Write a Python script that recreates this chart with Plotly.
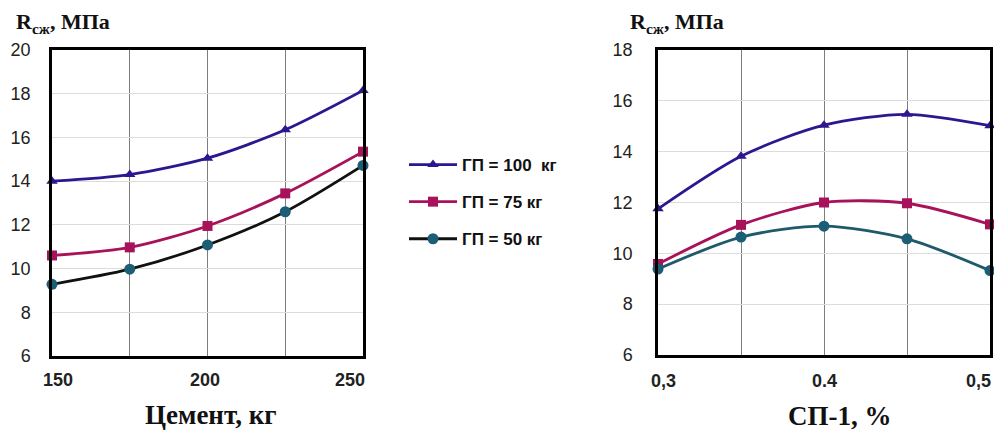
import plotly.graph_objects as go

# Left chart: Цемент, кг
cement = [150, 175, 200, 225, 250]
left_gp100 = [14.0, 14.3, 15.05, 16.35, 18.15]
left_gp75 = [10.6, 10.97, 11.95, 13.44, 15.35]
left_gp50 = [9.28, 9.97, 11.08, 12.6, 14.72]

# Right chart: СП-1, %
sp1 = [0.3, 0.35, 0.4, 0.45, 0.5]
right_gp100 = [11.75, 13.82, 15.04, 15.47, 15.02]
right_gp75 = [9.58, 11.12, 12.0, 11.97, 11.14]
right_gp50 = [9.38, 10.64, 11.07, 10.57, 9.32]

series_names = ["ГП = 100  кг", "ГП = 75 кг", "ГП = 50 кг"]
left_ticks = [150, 175, 200, 225, 250]
left_labels = ["150", "200", "250"]
right_ticks = [0.3, 0.35, 0.4, 0.45, 0.5]
right_labels = ["0,3", "0.4", "0,5"]

C100 = "#2d168f"
C75 = "#a8125a"
C50M = "#1b5e75"
C50L_LEFT = "#111111"
C50L_RIGHT = "#1d5a6b"

# page body has an 8px margin; figure is sized to fill the rest of the window
OFF = 8
W, H = 1002 - OFF, 435 - OFF


def px(x):
    return (x - OFF) / W


def py(y):
    return 1 - (y - OFF) / H


fig = go.Figure()


def add(x, y, name, lc, mc, sym, xa, ya, show, grp, size):
    fig.add_trace(go.Scatter(
        x=x, y=y, name=name, mode="lines+markers",
        line=dict(color=lc, width=2.8, shape="spline", smoothing=0.8),
        marker=dict(color=mc, symbol=sym, size=size),
        xaxis=xa, yaxis=ya, showlegend=show, legendgroup=grp, cliponaxis=False))


add(cement, left_gp100, series_names[0], C100, C100, "triangle-up", "x", "y", True, "a", 10)
add(cement, left_gp75, series_names[1], C75, C75, "square", "x", "y", True, "b", 10)
add(cement, left_gp50, series_names[2], C50L_LEFT, C50M, "circle", "x", "y", True, "c", 11)
add(sp1, right_gp100, series_names[0], C100, C100, "triangle-up", "x2", "y2", False, "a", 10)
add(sp1, right_gp75, series_names[1], C75, C75, "square", "x2", "y2", False, "b", 10)
add(sp1, right_gp50, series_names[2], C50L_RIGHT, C50M, "circle", "x2", "y2", False, "c", 11)

tickfont_y = dict(family="Liberation Sans, Arial", size=18, color="#222")

common_x = dict(showline=True, linecolor="black", linewidth=2.5, mirror=True,
                showgrid=True, gridcolor="#7d7d7d", gridwidth=1, ticks="",
                showticklabels=False, zeroline=False, automargin=False)
common_y = dict(showline=True, linecolor="black", linewidth=2.5, mirror=True,
                showgrid=True, gridcolor="#dcdcdc", gridwidth=1, ticks="",
                tickfont=tickfont_y, zeroline=False, dtick=2, automargin=False)

fig.update_layout(
    width=W, height=H,
    margin=dict(l=0, r=0, t=0, b=0, autoexpand=False),
    paper_bgcolor="white", plot_bgcolor="white",
    xaxis=dict(domain=[px(52), px(363)], range=[150, 250], tickvals=left_ticks,
               anchor="y", **common_x),
    yaxis=dict(domain=[py(356), py(50)], range=[6, 20], anchor="x",
               ticklabelstandoff=15, **common_y),
    xaxis2=dict(domain=[px(658), px(990)], range=[0.3, 0.5], tickvals=right_ticks,
                anchor="y2", **common_x),
    yaxis2=dict(domain=[py(355), py(50)], range=[6, 18], anchor="x2",
                ticklabelstandoff=19, **common_y),
    legend=dict(x=px(404), y=py(147), xanchor="left", yanchor="top",
                font=dict(family="Liberation Sans Narrow, Arial Narrow, Liberation Sans", size=17,
                          color="#111", weight="bold"),
                itemwidth=48, tracegroupgap=12, bgcolor="rgba(0,0,0,0)"),
)

# x tick labels (placed as in the reference, slightly inset at the ends)
xtick_font = dict(family="Liberation Sans, Arial", size=18, color="#222", weight="bold")
for lab, cx in zip(left_labels, [58, 205, 350]):
    fig.add_annotation(x=px(cx), y=py(380), xref="paper", yref="paper", text=lab,
                       showarrow=False, font=xtick_font, xanchor="center", yanchor="middle")
for lab, cx in zip(right_labels, [663, 824, 978]):
    fig.add_annotation(x=px(cx), y=py(381), xref="paper", yref="paper", text=lab,
                       showarrow=False, font=xtick_font, xanchor="center", yanchor="middle")

title_font = dict(family="Liberation Serif, Times New Roman", size=22, color="#111", weight="bold")
fig.add_annotation(x=px(14), y=py(23), xref="paper", yref="paper", text="R<sub>сж</sub>, МПа",
                   showarrow=False, font=title_font, xanchor="left", yanchor="middle")
fig.add_annotation(x=px(628), y=py(23), xref="paper", yref="paper", text="R<sub>сж</sub>, МПа",
                   showarrow=False, font=title_font, xanchor="left", yanchor="middle")

fig.add_annotation(x=px(210), y=py(415), xref="paper", yref="paper", text="Цемент, кг",
                   showarrow=False, font=dict(family="Liberation Serif, Times New Roman", size=27,
                                              color="#111", weight="bold"),
                   xanchor="center", yanchor="middle")
fig.add_annotation(x=px(840), y=py(416), xref="paper", yref="paper", text="СП-1, %",
                   showarrow=False, font=dict(family="Liberation Serif, Times New Roman", size=27,
                                              color="#111", weight="bold"),
                   xanchor="center", yanchor="middle")

fig.write_html("out.html")
